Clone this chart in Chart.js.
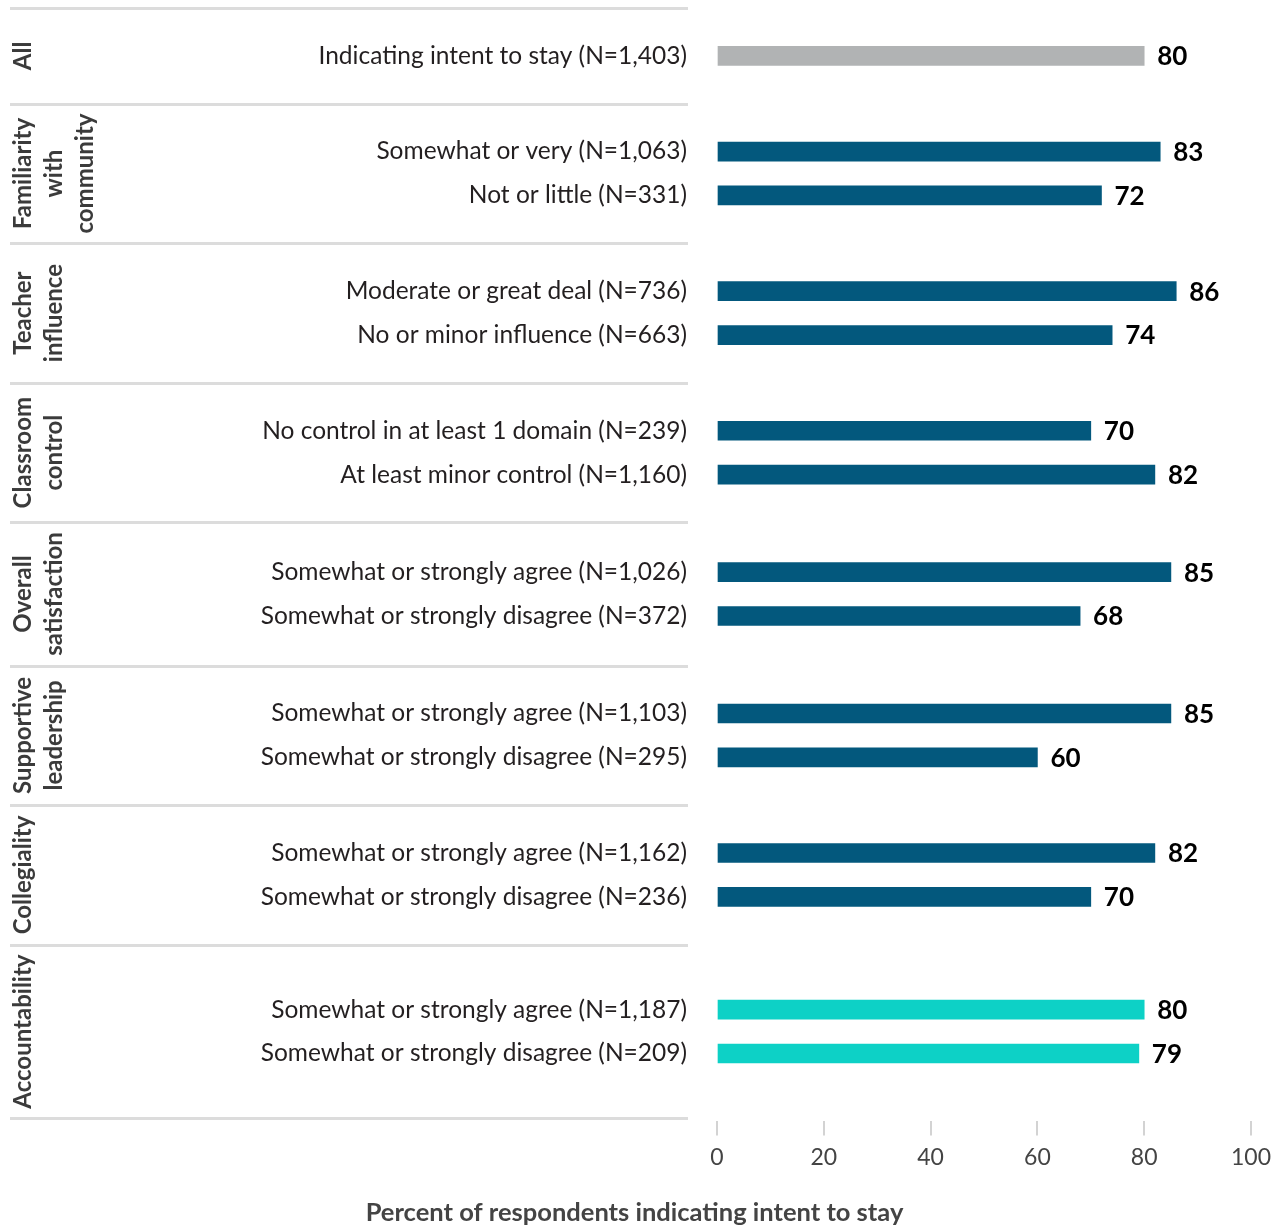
<!DOCTYPE html>
<html>
<head>
<meta charset="utf-8">
<title>Intent to stay</title>
<script src="https://cdn.jsdelivr.net/npm/chart.js@4.4.1/dist/chart.umd.min.js"></script>
<style>
  html, body { margin: 0; padding: 0; background: #fff; }
  #wrap { width: 1283px; height: 1228px; }
</style>
</head>
<body>
<div id="wrap"><canvas id="myChart"></canvas></div>
<script>
/* data */

// group names, one entry per line of the rotated label
const groupNames = [
  ['All'],
  ['Familiarity', 'with', 'community'],
  ['Teacher', 'influence'],
  ['Classroom', 'control'],
  ['Overall', 'satisfaction'],
  ['Supportive', 'leadership'],
  ['Collegiality'],
  ['Accountability']
];

// group index of each bar
const rowGroups = [0, 1, 1, 2, 2, 3, 3, 4, 4, 5, 5, 6, 6, 7, 7];

const rowLabels = [
  'Indicating intent to stay (N=1,403)',
  'Somewhat or very (N=1,063)',
  'Not or little (N=331)',
  'Moderate or great deal (N=736)',
  'No or minor influence (N=663)',
  'No control in at least 1 domain (N=239)',
  'At least minor control (N=1,160)',
  'Somewhat or strongly agree (N=1,026)',
  'Somewhat or strongly disagree (N=372)',
  'Somewhat or strongly agree (N=1,103)',
  'Somewhat or strongly disagree (N=295)',
  'Somewhat or strongly agree (N=1,162)',
  'Somewhat or strongly disagree (N=236)',
  'Somewhat or strongly agree (N=1,187)',
  'Somewhat or strongly disagree (N=209)'
];

const values = [80, 83, 72, 86, 74, 70, 82, 85, 68, 85, 60, 82, 70, 80, 79];

const xTicks = [0, 20, 40, 60, 80, 100];

const axisTitle = 'Percent of respondents indicating intent to stay';


/* layout */

const FONT = 'Lato';
const groupFont = 'bold 24px ' + FONT;
const PAD = 48;          // space between separator and first / last bar
const STEP = 44;         // distance between bars of one group
const LABEL_MARGIN = 10; // room round a rotated group label
const AXIS_GAP = 3;

function barColor(g) {
  if (g === 0) return '#b1b3b4';
  if (g === groupNames.length - 1) return '#0dd1c6';
  return '#03587d';
}

// a group is as tall as its bars need, or its label if that is longer
const measure = document.createElement('canvas').getContext('2d');
measure.font = groupFont;

const rowPos = [];
const groupBounds = [0];
let cursor = 0;
groupNames.forEach(function (lines, g) {
  const count = rowGroups.filter(function (r) { return r === g; }).length;
  const longest = Math.max.apply(null, lines.map(function (l) { return measure.measureText(l).width; }));
  const span = Math.max(2 * PAD + (count - 1) * STEP, longest + 2 * LABEL_MARGIN);
  const first = cursor + (span - (count - 1) * STEP) / 2;
  for (let i = 0; i < count; i++) rowPos.push(first + i * STEP);
  cursor += span;
  groupBounds.push(cursor);
});


/* plugins */

// separators and rotated group names on the left
const groupBands = {
  id: 'groupBands',
  afterDraw(chart) {
    const c = chart.ctx;
    const y = chart.scales.y;
    c.save();
    c.strokeStyle = '#dcdcdc';
    c.lineWidth = 3;
    groupBounds.forEach(function (b) {
      const py = Math.round(y.getPixelForValue(b)) + 0.5;
      c.beginPath();
      c.moveTo(10, py);
      c.lineTo(688, py);
      c.stroke();
    });
    c.font = groupFont;
    c.fillStyle = '#3b3b3b';
    c.textAlign = 'center';
    c.textBaseline = 'middle';
    groupNames.forEach(function (lines, g) {
      const mid = (y.getPixelForValue(groupBounds[g]) + y.getPixelForValue(groupBounds[g + 1])) / 2;
      lines.forEach(function (line, k) {
        c.save();
        c.translate(23 + k * 31, mid);
        c.rotate(-Math.PI / 2);
        c.fillText(line, 0, 0);
        c.restore();
      });
    });
    c.restore();
  }
};

// value at the end of each bar
const valueLabels = {
  id: 'valueLabels',
  afterDatasetsDraw(chart) {
    const c = chart.ctx;
    c.save();
    c.font = 'bold 26px ' + FONT;
    c.fillStyle = '#000';
    c.textBaseline = 'middle';
    chart.getDatasetMeta(0).data.forEach(function (bar, i) {
      c.fillText(values[i], bar.x + 13, bar.y + 1);
    });
    c.restore();
  }
};


/* chart */

const ctx = document.getElementById('myChart').getContext('2d');

const chart = new Chart(ctx, {
  type: 'bar',
  data: {
    datasets: [{
      data: values.map(function (v, i) { return { x: v, y: rowPos[i] }; }),
      backgroundColor: rowGroups.map(barColor),
      barThickness: 19,
      borderWidth: 0
    }]
  },
  options: {
    indexAxis: 'y',
    responsive: true,
    maintainAspectRatio: false,
    animation: false,
    layout: { padding: { top: 8, left: 18, right: 32, bottom: 0 } },
    plugins: {
      legend: { display: false },
      tooltip: { enabled: false },
      title: {
        display: true,
        position: 'bottom',
        text: axisTitle,
        color: '#444',
        font: { family: FONT, size: 25.5, weight: 'bold', lineHeight: 1.2 },
        padding: { top: 0, bottom: 0 }
      }
    },
    scales: {
      x: {
        type: 'linear',
        min: 0,
        max: 100,
        offset: false,
        afterBuildTicks: function (s) { s.ticks = xTicks.map(function (v) { return { value: v }; }); },
        afterFit: function (s) { s.height = 76; },
        grid: { drawOnChartArea: false, drawTicks: true, tickLength: 14, color: '#d3d3d3', lineWidth: 2, offset: false },
        border: { display: false },
        ticks: { padding: 8, color: '#444', font: { family: FONT, size: 23 } }
      },
      y: {
        type: 'linear',
        reverse: true,
        offset: false,
        min: 0,
        max: cursor + AXIS_GAP,
        afterBuildTicks: function (s) { s.ticks = rowPos.map(function (v) { return { value: v }; }); },
        afterFit: function (s) {
          s.width = 699;
          s.paddingTop = 0;
          s.paddingBottom = 0;
        },
        grid: { display: false, drawTicks: false, offset: false },
        border: { display: false },
        ticks: {
          autoSkip: false,
          padding: 30,
          color: '#231f20',
          font: { family: FONT, size: 24.5 },
          callback: function (v, i) { return rowLabels[i]; }
        }
      }
    }
  },
  plugins: [groupBands, valueLabels]
});
</script>
</body>
</html>
